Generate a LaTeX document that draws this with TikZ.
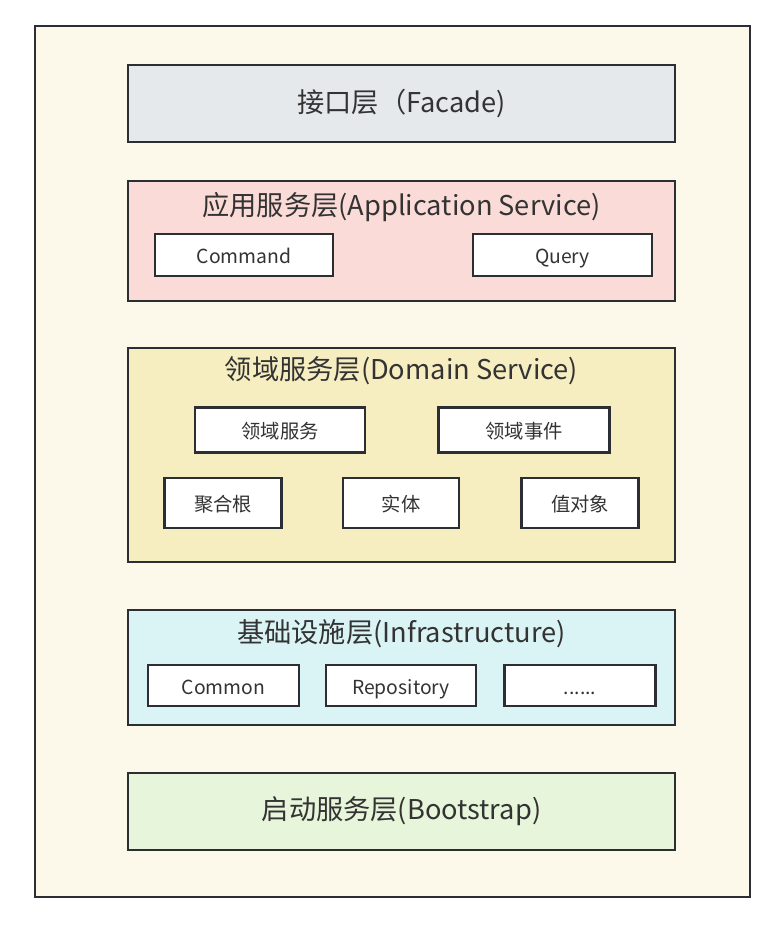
\documentclass[tikz,border=0pt]{standalone}
\usepackage{fontspec}
\setmainfont{Noto Sans CJK SC}
\usepackage{tikz}
\usetikzlibrary{positioning}
\definecolor{linecol}{HTML}{2B2F33}
\definecolor{textcol}{HTML}{333333}
\definecolor{framefill}{HTML}{FCF8EA}
\definecolor{facadefill}{HTML}{E6E9EC}
\definecolor{appfill}{HTML}{FADBD8}
\definecolor{domainfill}{HTML}{F6EDC0}
\definecolor{infrafill}{HTML}{DAF3F4}
\definecolor{bootfill}{HTML}{E7F5DA}
\tikzstyle{frame} = [rectangle, minimum width=14.3cm, minimum height=17.42cm, draw=linecol, line width=1.5pt, fill=framefill]
\tikzstyle{layer} = [rectangle, minimum width=10.94cm, inner sep=0pt, draw=linecol, line width=1.3pt, text=textcol, font=\fontsize{15.5}{18}\selectfont]
\tikzstyle{title} = [text=textcol, font=\fontsize{15.5}{18}\selectfont, inner sep=0pt]
\tikzstyle{item} = [rectangle, inner sep=0pt, text height=1.9ex, text depth=0.1ex, draw=linecol, line width=1.3pt, fill=white, text=textcol, font=\fontsize{11}{13}\selectfont]

\begin{document}
\begin{tikzpicture}[x=0.02cm, y=-0.02cm]

        \useasboundingbox (0,0) rectangle (775,930);
        \node (outer) [frame] at (392.5,461.5) {};

        \node (facade) [layer, fill=facadefill, minimum height=1.54cm] at (401.5,103.5) {接口层（Facade)};

        \node (app) [layer, fill=appfill, minimum height=2.4cm] at (401.5,241) {};
        \node (apptitle) [title] at (401.5,207) {应用服务层(Application Service)};
        \node (command) [item, minimum width=3.56cm, minimum height=0.84cm] at (244,255) {Command};
        \node (query) [item, minimum width=3.58cm, minimum height=0.84cm] at (562.5,255) {Query};

        \node (domain) [layer, fill=domainfill, minimum height=4.28cm] at (401.5,455) {};
        \node (domaintitle) [title] at (401.5,371) {领域服务层(Domain Service)};
        \node (domainservice) [item, minimum width=3.4cm, minimum height=0.9cm] at (280,430) {领域服务};
        \node (domainevent) [item, minimum width=3.42cm, minimum height=0.9cm] at (524,430) {领域事件};
        \node (aggregate) [item, minimum width=2.34cm, minimum height=1cm] at (223,503) {聚合根};
        \node (entity) [item, minimum width=2.32cm, minimum height=1cm] at (401,503) {实体};
        \node (valueobj) [item, minimum width=2.34cm, minimum height=1cm] at (580,503) {值对象};

        \node (infra) [layer, fill=infrafill, minimum height=2.3cm] at (401.5,667.5) {};
        \node (infratitle) [title] at (401.5,634) {基础设施层(Infrastructure)};
        \node (common) [item, minimum width=3.02cm, minimum height=0.82cm] at (223.5,685.5) {Common};
        \node (repository) [item, minimum width=3cm, minimum height=0.82cm] at (401,685.5) {Repository};
        \node (more) [item, minimum width=3.02cm, minimum height=0.82cm] at (580,685.5) {......};

        \node (boot) [layer, fill=bootfill, minimum height=1.54cm] at (401.5,811.5) {启动服务层(Bootstrap)};

\end{tikzpicture}
\end{document}
